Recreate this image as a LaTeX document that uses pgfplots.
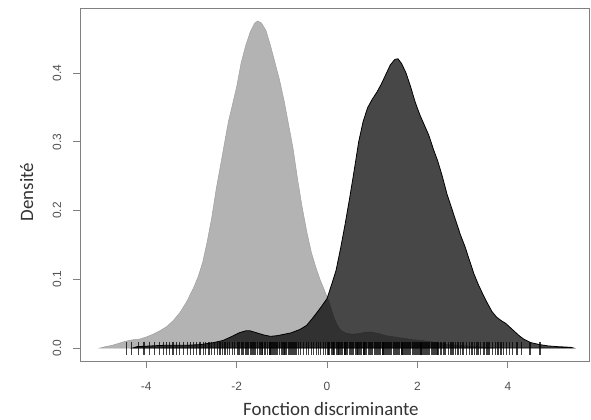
\documentclass[border=0pt]{standalone}
\usepackage{pgfplots}
\pgfplotsset{compat=1.18}
\usepackage{fontspec}
\setmainfont{Carlito}
\newfontfamily\arial{Liberation Sans}
\definecolor{boxgrey}{RGB}{128,128,128}
\definecolor{lightfill}{RGB}{179,179,179}
\definecolor{lightedge}{RGB}{160,160,160}
\definecolor{ticktext}{RGB}{80,80,80}
\definecolor{labeltext}{RGB}{51,51,51}

\begin{document}
\begin{tikzpicture}
  \begin{axis}[
    scale only axis,
    width=509bp, height=353bp,
    xmin=-5.465, xmax=5.796,
    ymin=-0.0189, ymax=0.4949,
    axis line style={boxgrey, line width=0.9bp},
    tick style={boxgrey, line width=0.9bp},
    tick align=outside,
    major tick length=7bp,
    xtick={-4,-2,0,2,4},
    xticklabels={-4,-2,0,2,4},
    ytick={0,0.1,0.2,0.3,0.4},
    yticklabels={0.0,0.1,0.2,0.3,0.4},
    xtick pos=bottom, ytick pos=left,
    ticklabel style={font=\arial\fontsize{12}{12}\selectfont, text=ticktext},
    xticklabel style={anchor=base, yshift=-22bp},
    yticklabel style={rotate=90, anchor=base, yshift=12bp},
    xlabel={Fonction discriminante},
    ylabel={Densité},
    label style={font=\fontsize{19}{19}\selectfont, text=labeltext},
    xlabel style={at={(axis description cs:0.493,-0.153)}, anchor=base},
    ylabel style={at={(axis description cs:-0.0923,0.479)}, anchor=base, rotate=0},
    clip=true,
  ]
    % groupe 1 (gris clair)
    \addplot[fill=lightfill, draw=lightedge, line width=0.5bp] coordinates {
      (-5.02,0) (-4.9,0.002) (-4.75,0.004) (-4.6,0.007) (-4.45,0.010)
      (-4.3,0.012) (-4.15,0.013) (-4.0,0.016) (-3.85,0.020) (-3.7,0.025)
      (-3.55,0.031) (-3.4,0.040) (-3.25,0.052) (-3.1,0.068) (-2.95,0.088)
      (-2.85,0.104) (-2.75,0.125) (-2.65,0.155) (-2.55,0.190) (-2.45,0.232)
      (-2.35,0.268) (-2.25,0.305) (-2.18,0.330) (-2.1,0.352) (-2.0,0.380)
      (-1.9,0.415) (-1.8,0.440) (-1.7,0.460) (-1.6,0.473) (-1.53,0.476)
      (-1.45,0.473) (-1.35,0.462) (-1.25,0.440) (-1.15,0.415) (-1.05,0.390)
      (-0.95,0.360) (-0.85,0.325) (-0.75,0.290) (-0.65,0.245) (-0.55,0.205)
      (-0.45,0.170) (-0.35,0.140) (-0.25,0.118) (-0.15,0.099) (-0.05,0.083)
      (0.05,0.066) (0.15,0.045) (0.22,0.034) (0.3,0.026) (0.4,0.022)
      (0.55,0.020) (0.7,0.021) (0.85,0.023) (1.0,0.023) (1.15,0.021)
      (1.3,0.018) (1.5,0.016) (1.7,0.014) (1.9,0.012) (2.1,0.011)
      (2.3,0.009) (2.5,0.007) (2.7,0.005) (2.9,0.004) (3.1,0.003)
      (3.3,0.002) (3.5,0.001) (3.7,0)
    } -- cycle;
    % groupe 2 (gris fonce)
    \addplot[fill=black, fill opacity=0.72, draw=black, line width=0.8bp] coordinates {
      (-4.3,0) (-4.2,0.002) (-3.9,0.003) (-3.6,0.004) (-3.4,0.004)
      (-3.1,0.004) (-2.8,0.005) (-2.5,0.008) (-2.3,0.011) (-2.1,0.017)
      (-1.95,0.022) (-1.8,0.025) (-1.7,0.025) (-1.55,0.022) (-1.4,0.019)
      (-1.25,0.017) (-1.1,0.018) (-0.95,0.020) (-0.8,0.022) (-0.6,0.027)
      (-0.45,0.033) (-0.3,0.045) (-0.15,0.058) (0.0,0.072) (0.1,0.092)
      (0.2,0.113) (0.3,0.145) (0.4,0.180) (0.5,0.218) (0.6,0.258)
      (0.7,0.300) (0.8,0.330) (0.9,0.350) (1.0,0.362) (1.1,0.372)
      (1.2,0.384) (1.3,0.398) (1.4,0.412) (1.5,0.420) (1.57,0.421)
      (1.65,0.414) (1.75,0.400) (1.85,0.380) (1.95,0.358) (2.05,0.340)
      (2.15,0.325) (2.25,0.310) (2.35,0.290) (2.45,0.272) (2.55,0.250)
      (2.65,0.225) (2.75,0.205) (2.85,0.185) (2.95,0.165) (3.05,0.148)
      (3.15,0.128) (3.25,0.108) (3.35,0.092) (3.45,0.078) (3.55,0.065)
      (3.65,0.053) (3.75,0.045) (3.85,0.040) (3.95,0.036) (4.05,0.030)
      (4.15,0.024) (4.25,0.018) (4.35,0.013) (4.5,0.008) (4.7,0.005)
      (4.9,0.003) (5.1,0.002) (5.4,0.001) (5.45,0)
    } -- cycle;
    % rug
    \addplot[only marks, mark=|, mark size=6.5bp,
      mark options={draw=black, draw opacity=0.75, line width=1.3bp}] coordinates {
      (-4.43,0) (-4.32,0) (-4.17,0) (-4.05,0) (-3.93,0) (-3.82,0) (-3.71,0)
      (-3.62,0) (-3.55,0) (-3.49,0) (-3.41,0) (-3.33,0) (-3.27,0) (-3.18,0)
      (-3.09,0) (-3.02,0) (-2.95,0) (-2.88,0) (-2.81,0) (-2.74,0) (-2.69,0)
      (-2.61,0) (-2.55,0) (-2.49,0) (-2.43,0) (-2.37,0) (-2.31,0) (-2.26,0)
      (-2.20,0) (-2.15,0) (-2.09,0) (-2.04,0) (-1.98,0)
      (-1.96,0) (-1.93,0) (-1.88,0) (-1.85,0) (-1.80,0) (-1.77,0) (-1.73,0)
      (-1.69,0) (-1.66,0) (-1.61,0) (-1.58,0) (-1.54,0) (-1.50,0) (-1.47,0)
      (-1.43,0) (-1.39,0) (-1.36,0) (-1.31,0) (-1.28,0) (-1.24,0) (-1.20,0)
      (-1.17,0) (-1.12,0) (-1.09,0) (-1.05,0) (-1.01,0) (-0.98,0) (-0.93,0)
      (-0.90,0) (-0.86,0) (-0.82,0) (-0.79,0) (-0.74,0) (-0.71,0) (-0.67,0)
      (-0.63,0) (-0.58,0) (-0.52,0) (-0.46,0) (-0.41,0) (-0.35,0) (-0.30,0)
      (-0.24,0) (-0.19,0) (-0.14,0) (-0.08,0) (-0.03,0) (0.02,0) (0.06,0)
      (0.10,0) (0.13,0) (0.17,0) (0.21,0) (0.24,0) (0.28,0) (0.31,0)
      (0.35,0) (0.38,0) (0.42,0) (0.45,0) (0.49,0) (0.52,0) (0.56,0)
      (0.59,0) (0.63,0) (0.66,0) (0.70,0) (0.73,0) (0.77,0) (0.80,0)
      (0.84,0) (0.87,0) (0.91,0) (0.94,0) (0.98,0) (1.01,0) (1.05,0)
      (1.08,0) (1.12,0) (1.15,0) (1.19,0) (1.22,0) (1.26,0) (1.29,0)
      (1.33,0) (1.36,0) (1.40,0) (1.43,0) (1.47,0) (1.50,0) (1.54,0)
      (1.57,0) (1.61,0) (1.64,0) (1.68,0) (1.71,0) (1.75,0) (1.78,0)
      (1.82,0) (1.85,0) (1.89,0) (1.92,0) (1.96,0) (1.99,0) (2.03,0)
      (2.06,0) (2.10,0) (2.13,0) (2.17,0) (2.20,0) (2.24,0) (2.27,0)
      (2.31,0) (2.35,0) (2.39,0) (2.43,0) (2.47,0) (2.52,0) (2.57,0)
      (2.62,0) (2.68,0) (2.73,0) (2.79,0) (2.84,0) (2.90,0) (2.96,0)
      (3.02,0) (3.08,0) (3.15,0) (3.21,0) (3.27,0) (3.34,0) (3.40,0)
      (3.47,0) (3.53,0) (3.60,0) (3.66,0) (3.72,0) (3.78,0) (3.85,0)
      (3.90,0) (3.97,0) (4.04,0) (4.10,0) (4.20,0) (4.31,0) (4.49,0)
      (4.71,0)
      (-1.62,0) (-1.44,0) (-1.26,0) (-1.14,0) (-0.95,0) (-0.77,0)
      (0.04,0) (0.15,0) (0.26,0) (0.40,0) (0.54,0) (0.68,0) (0.82,0)
      (0.96,0) (1.10,0) (1.24,0) (1.38,0) (1.52,0) (1.66,0) (1.80,0)
      (1.94,0) (2.08,0) (2.22,0) (2.33,0) (2.45,0) (2.60,0) (2.76,0)
      (3.00,0) (3.30,0) (3.56,0)
    };
  \end{axis}
  \pgfresetboundingbox
  \path[use as bounding box] ([shift={(-80bp,-58bp)}]current axis.south west)
    rectangle ([shift={(2bp,8bp)}]current axis.north east);
\end{tikzpicture}
\end{document}
